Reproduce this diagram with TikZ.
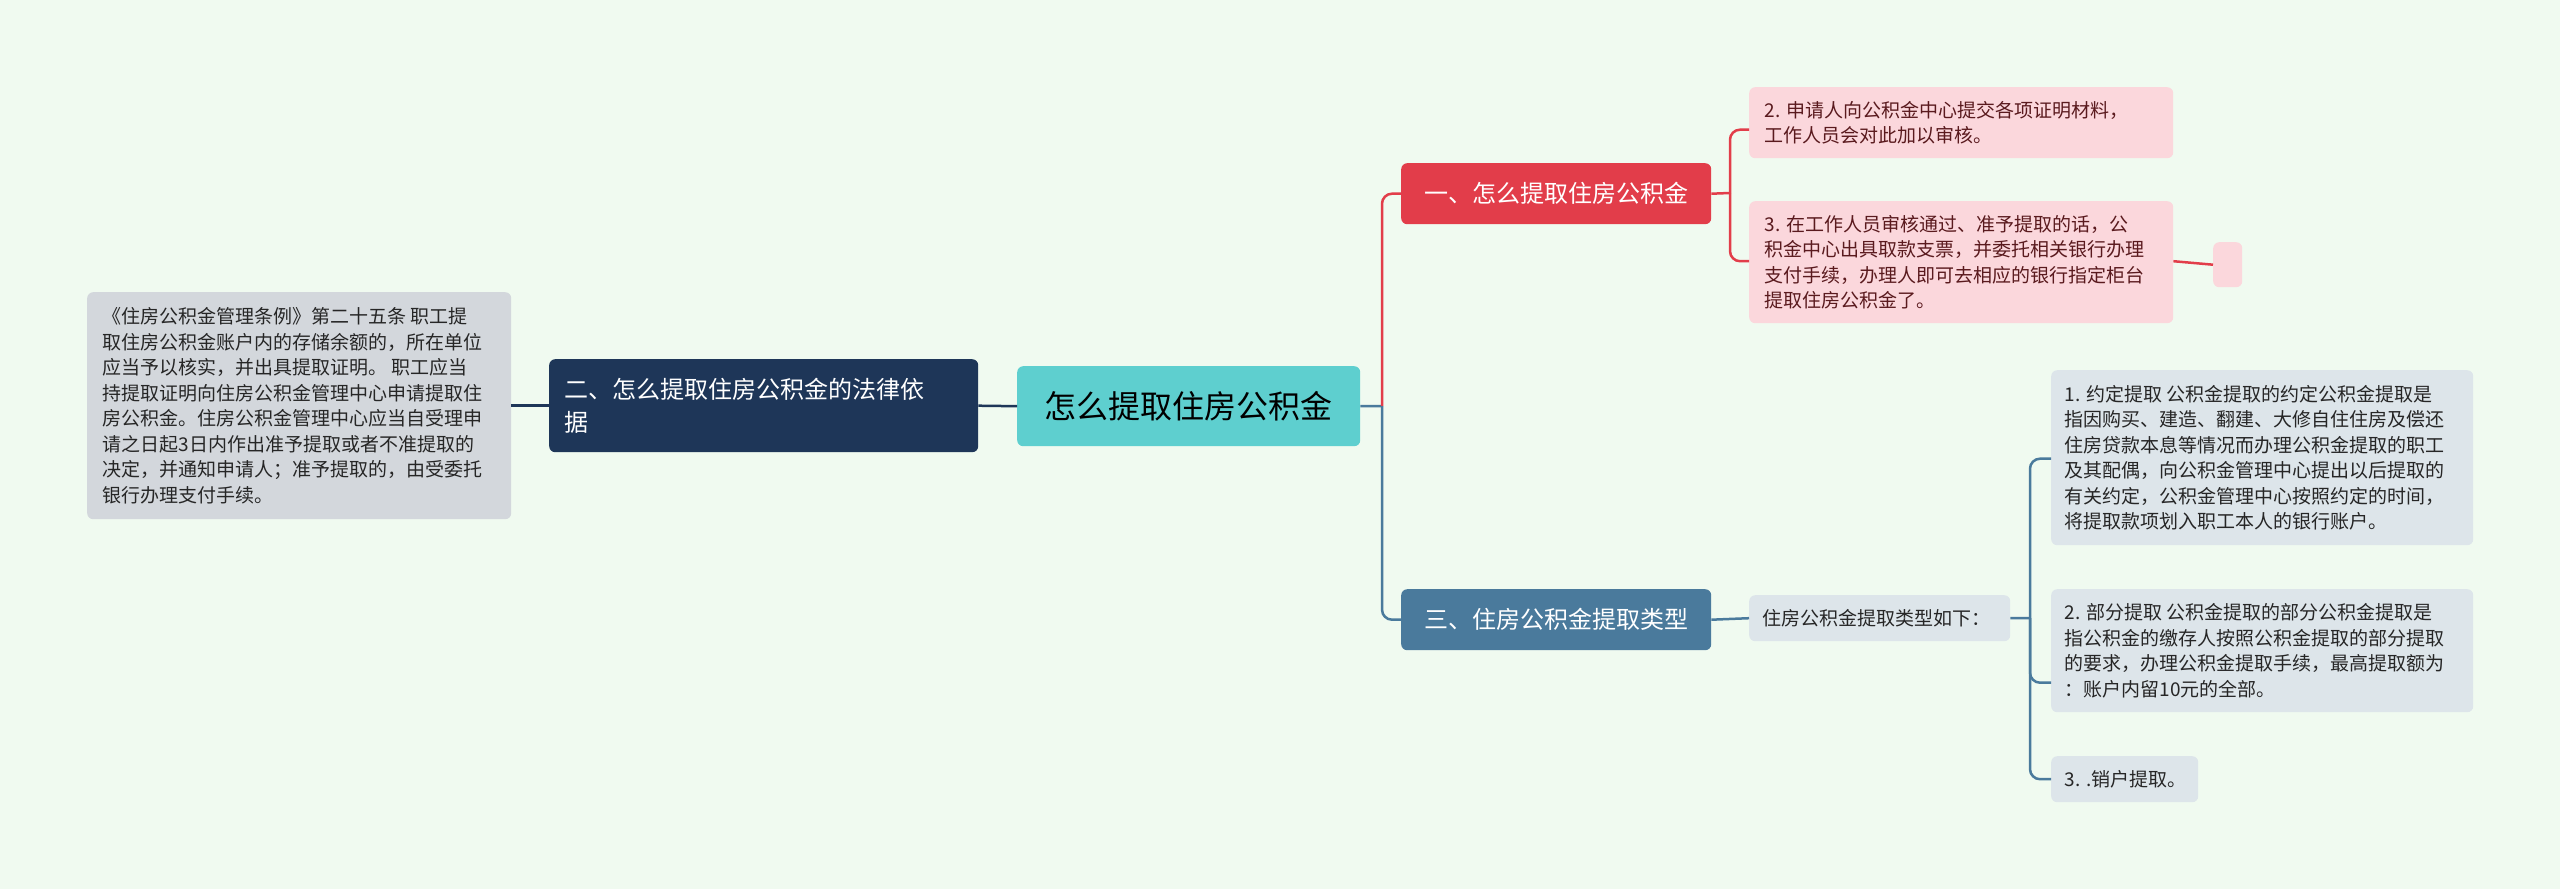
\documentclass[tikz,border=0pt]{standalone}
\usepackage{fontspec}
\setmainfont{Noto Sans CJK SC}
\definecolor{bg}{HTML}{F0FAF0}
\definecolor{rootc}{HTML}{5ECFCF}
\definecolor{navy}{HTML}{1E3658}
\definecolor{greyb}{HTML}{D3D7DC}
\definecolor{redc}{HTML}{E23D4A}
\definecolor{pinkb}{HTML}{FBD7DC}
\definecolor{bluec}{HTML}{4A7A9C}
\definecolor{lblue}{HTML}{DDE5EA}
\definecolor{maroon}{HTML}{5A1A1E}
\begin{document}
\begin{tikzpicture}[x=1pt,y=-1pt,
  box/.style={rounded corners=6pt,inner sep=0pt,align=left,anchor=north west},
  small/.style={font=\fontsize{19}{25.5}\selectfont},
  line/.style={line width=2.5pt,rounded corners=10pt}]
\fill[bg] (0,0) rectangle (2560,889);
\useasboundingbox (0,0) rectangle (2560,889);
% root
\node[box,fill=rootc,minimum width=343,minimum height=80,align=center,font=\fontsize{32}{36}\selectfont,text=black!85] (root) at (1017,366) {};
\node at (root.center) {\fontsize{32}{36}\selectfont 怎么提取住房公积金};
% left
\node[box,fill=navy,minimum width=429,minimum height=93] (law) at (549,359) {};
\node[anchor=west,text=white,align=left,font=\fontsize{24}{33}\selectfont] at ([xshift=12]law.west) {二、怎么提取住房公积金的法律依\\据};
\node[box,fill=greyb,minimum width=424,minimum height=227] (lawt) at (87,292) {};
\node[anchor=west,align=left,small,text=black!85] at ([xshift=12]lawt.west) {《住房公积金管理条例》第二十五条 职工提\\取住房公积金账户内的存储余额的，所在单位\\应当予以核实，并出具提取证明。 职工应当\\持提取证明向住房公积金管理中心申请提取住\\房公积金。住房公积金管理中心应当自受理申\\请之日起3日内作出准予提取或者不准提取的\\决定，并通知申请人；准予提取的，由受委托\\银行办理支付手续。};
% red branch
\node[box,fill=redc,minimum width=310,minimum height=61] (one) at (1401,163) {};
\node[text=white,font=\fontsize{24}{30}\selectfont] at (one.center) {一、怎么提取住房公积金};
\node[box,fill=pinkb,minimum width=424,minimum height=71] (p1) at (1749,87) {};
\node[anchor=west,align=left,small,text=maroon] at ([xshift=12]p1.west) {2. 申请人向公积金中心提交各项证明材料，\\工作人员会对此加以审核。};
\node[box,fill=pinkb,minimum width=424,minimum height=122] (p3) at (1749,201) {};
\node[anchor=west,align=left,small,text=maroon] at ([xshift=12]p3.west) {3. 在工作人员审核通过、准予提取的话，公\\积金中心出具取款支票，并委托相关银行办理\\支付手续，办理人即可去相应的银行指定柜台\\提取住房公积金了。};
\node[box,fill=pinkb,minimum width=29,minimum height=45] (pe) at (2213,242) {};
% blue branch
\node[box,fill=bluec,minimum width=310,minimum height=61] (three) at (1401,589) {};
\node[text=white,font=\fontsize{24}{30}\selectfont] at (three.center) {三、住房公积金提取类型};
\node[box,fill=lblue,minimum width=261,minimum height=46] (t0) at (1749,595) {};
\node[anchor=west,small,text=black!85] at ([xshift=10]t0.west) {住房公积金提取类型如下：};
\node[box,fill=lblue,minimum width=422,minimum height=175] (b1) at (2051,370) {};
\node[anchor=west,align=left,small,text=black!85] at ([xshift=10]b1.west) {1. 约定提取 公积金提取的约定公积金提取是\\指因购买、建造、翻建、大修自住住房及偿还\\住房贷款本息等情况而办理公积金提取的职工\\及其配偶，向公积金管理中心提出以后提取的\\有关约定，公积金管理中心按照约定的时间，\\将提取款项划入职工本人的银行账户。};
\node[box,fill=lblue,minimum width=422,minimum height=123] (b2) at (2051,589) {};
\node[anchor=west,align=left,small,text=black!85] at ([xshift=10]b2.west) {2. 部分提取 公积金提取的部分公积金提取是\\指公积金的缴存人按照公积金提取的部分提取\\的要求，办理公积金提取手续，最高提取额为\\：账户内留10元的全部。};
\node[box,fill=lblue,minimum width=147,minimum height=46] (b3) at (2051,756) {};
\node[anchor=west,small,text=black!85] at ([xshift=10]b3.west) {3. .销户提取。};
% connectors
\draw[line,navy] (root.west) -- (law.east);
\draw[line,navy] (law.west) -- (lawt.east);
\coordinate (tr) at (1382,406);
\draw[line,bluec] (root.east) -- (tr);
\draw[line,redc] (tr) |- (one.west);
\draw[line,bluec] (tr) |- (three.west);
\coordinate (rj) at (1730,193);
\draw[line,redc] (one.east) -- (rj);
\draw[line,redc] (rj) |- ([yshift=-7]p1.west);
\draw[line,redc] (rj) |- ([yshift=1]p3.west);
\draw[line,redc] ([yshift=1]p3.east) -- (pe.west);
\coordinate (bj) at (2030,618);
\draw[line,bluec] (three.east) -- (t0.west);
\draw[line,bluec] (t0.east) -- (bj);
\draw[line,bluec] (bj) |- ([yshift=-1]b1.west);
\draw[line,bluec] (bj) |- ([yshift=-32]b2.west);
\draw[line,bluec] (bj) |- ([yshift=0]b3.west);
\end{tikzpicture}
\end{document}
